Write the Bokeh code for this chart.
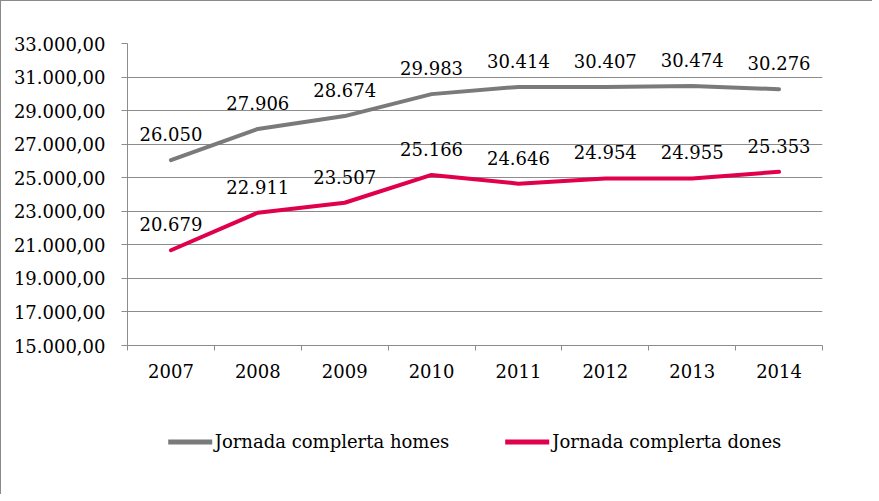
from bokeh.plotting import figure
from bokeh.layouts import column
from bokeh.models import (ColumnDataSource, FixedTicker, Range1d, Legend, LegendItem)
from bokeh.embed import file_html
from bokeh.resources import INLINE
from bokeh.core.properties import value

years = ["2007", "2008", "2009", "2010", "2011", "2012", "2013", "2014"]
homes = [26050, 27906, 28674, 29983, 30414, 30407, 30474, 30276]
dones = [20679, 22911, 23507, 25166, 24646, 24954, 24955, 25353]
homes_labels = ["26.050", "27.906", "28.674", "29.983", "30.414", "30.407", "30.474", "30.276"]
dones_labels = ["20.679", "22.911", "23.507", "25.166", "24.646", "24.954", "24.955", "25.353"]
yticks = [15000, 17000, 19000, 21000, 23000, 25000, 27000, 29000, 31000, 33000]
ytick_labels = ["15.000,00", "17.000,00", "19.000,00", "21.000,00", "23.000,00",
                "25.000,00", "27.000,00", "29.000,00", "31.000,00", "33.000,00"]
series_names = ["Jornada complerta homes", "Jornada complerta dones"]

FONT = "DejaVu Serif"
FS = "18px"
GRAY = "#7a7a7a"
RED = "#e0004d"
GRID = "#8c8c8c"

n = len(years)
xs = [i + 0.5 for i in range(n)]

src = ColumnDataSource(dict(x=xs, homes=homes, dones=dones,
                            hl=homes_labels, dl=dones_labels))

p = figure(width=871, height=400, output_backend="svg", toolbar_location=None,
           x_range=Range1d(0, n), y_range=Range1d(yticks[0], yticks[-1]),
           min_border_left=126, min_border_top=42, min_border_right=50,
           min_border_bottom=56)
p.outline_line_color = None
p.background_fill_color = "white"
p.border_fill_color = "white"

# grid
p.xgrid.grid_line_color = None
p.ygrid.grid_line_color = GRID
p.ygrid.grid_line_width = 1

# y axis
p.yaxis.ticker = FixedTicker(ticks=yticks, minor_ticks=[])
p.yaxis.major_label_overrides = {t: l for t, l in zip(yticks, ytick_labels)}
p.yaxis.axis_line_color = GRID
p.yaxis.major_tick_line_color = GRID
p.yaxis.major_tick_out = 6
p.yaxis.major_tick_in = 0
p.yaxis.minor_tick_line_color = None
p.yaxis.major_label_text_font = FONT
p.yaxis.major_label_text_font_size = FS
p.yaxis.major_label_text_color = "black"
p.yaxis.major_label_standoff = 16

# x axis
p.xaxis.ticker = FixedTicker(ticks=xs, minor_ticks=list(range(n + 1)))
p.xaxis.major_label_overrides = {x: y for x, y in zip(xs, years)}
p.xaxis.axis_line_color = GRID
p.xaxis.major_tick_line_color = None
p.xaxis.minor_tick_line_color = GRID
p.xaxis.minor_tick_out = 5
p.xaxis.minor_tick_in = 0
p.xaxis.major_label_text_font = FONT
p.xaxis.major_label_text_font_size = FS
p.xaxis.major_label_text_color = "black"
p.xaxis.major_label_standoff = 12

p.line("x", "homes", source=src, line_color=GRAY, line_width=4, line_cap="round", line_join="round")
p.line("x", "dones", source=src, line_color=RED, line_width=4, line_cap="round", line_join="round")

p.text("x", "homes", text="hl", source=src, text_font=value(FONT), text_font_size=FS,
       text_align="center", text_baseline="middle", y_offset=-26, text_color="black")
p.text("x", "dones", text="dl", source=src, text_font=value(FONT), text_font_size=FS,
       text_align="center", text_baseline="middle", y_offset=-26, text_color="black")

# legend strip below the chart (its lines use the same data, clipped out of view)
p2 = figure(width=871, height=93, output_backend="svg", toolbar_location=None,
            x_range=Range1d(0, 1), y_range=Range1d(0, 1),
            min_border_left=46, min_border_right=0, min_border_top=0, min_border_bottom=13)
p2.axis.visible = False
p2.grid.visible = False
p2.outline_line_color = None
l1 = p2.line("x", "homes", source=src, line_color=GRAY, line_width=5, line_cap="round")
l2 = p2.line("x", "dones", source=src, line_color=RED, line_width=5, line_cap="round")

legend = Legend(items=[LegendItem(label=series_names[0], renderers=[l1]),
                       LegendItem(label=series_names[1], renderers=[l2])],
                orientation="horizontal", location="center",
                label_text_font=FONT, label_text_font_size=FS, label_text_color="black",
                glyph_width=44, glyph_height=20, label_standoff=3, spacing=56,
                border_line_color=None, background_fill_alpha=0,
                margin=0, padding=6)
p2.add_layout(legend, "center")

layout = column(p, p2, spacing=0)
layout.styles = {"border-top": "1px solid #8a8a8a", "border-left": "1px solid #8a8a8a"}

open("out.html", "w").write(file_html(layout, INLINE))
